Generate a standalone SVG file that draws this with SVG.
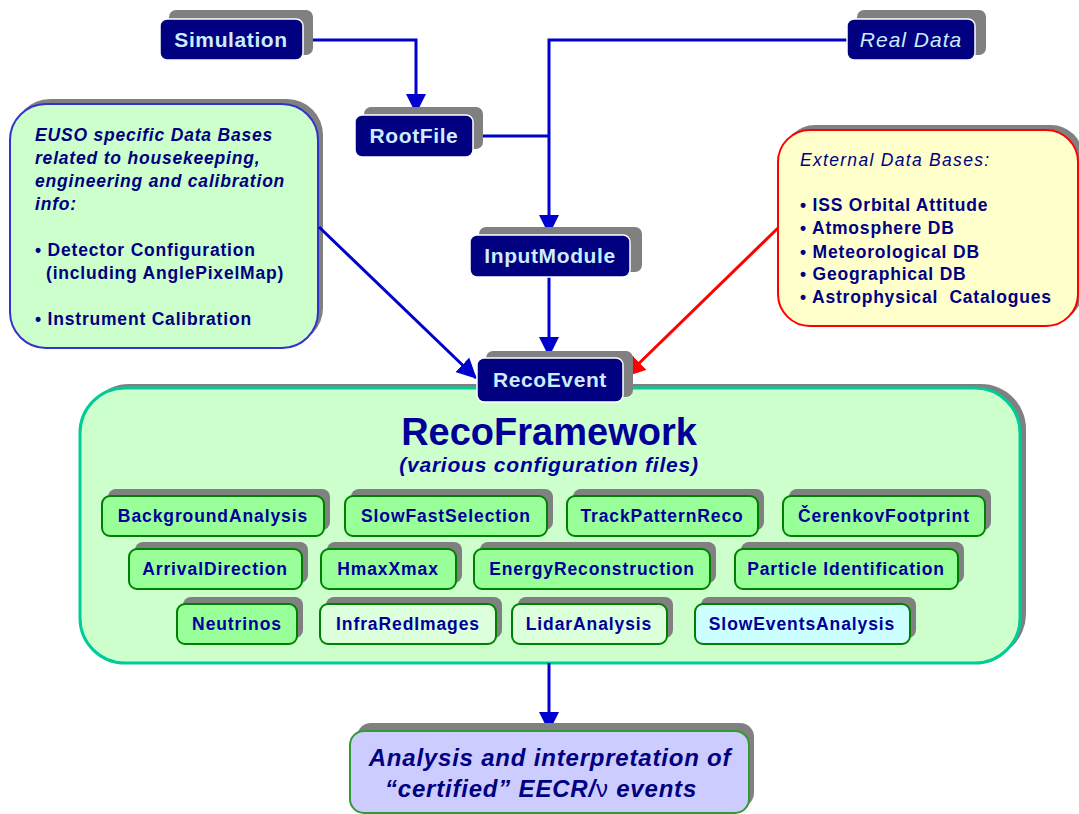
<svg xmlns="http://www.w3.org/2000/svg" width="1079" height="814" viewBox="0 0 1079 814">
<style>
.sh{fill:#808080}
.dark{fill:#000080;stroke:#ffffff;stroke-width:1.5}
.dt{font-family:"Liberation Sans",Arial,sans-serif;font-weight:bold;font-size:21px;letter-spacing:0.6px;fill:#ccecff;text-anchor:middle}
.sub{fill:#99ff99;stroke:#008000;stroke-width:2}
.st{font-family:"Liberation Sans",Arial,sans-serif;font-weight:bold;font-size:17.5px;letter-spacing:0.9px;fill:#000099;text-anchor:middle}
.bt{font-family:"Liberation Sans",Arial,sans-serif;font-weight:bold;font-size:17.5px;letter-spacing:0.8px;fill:#000080}
.conn{fill:none;stroke:#0000cc;stroke-width:3}
</style>
<defs>
<marker id="ab" markerUnits="userSpaceOnUse" markerWidth="20" markerHeight="20" viewBox="0 0 20 20" refX="19" refY="10" orient="auto"><path d="M0,0 L20,10 L0,20 z" fill="#0000cc"/></marker>
<marker id="ar" markerUnits="userSpaceOnUse" markerWidth="20" markerHeight="20" viewBox="0 0 20 20" refX="19" refY="10" orient="auto"><path d="M0,0 L20,10 L0,20 z" fill="#ff0000"/></marker>
</defs>
<rect width="1079" height="814" fill="#ffffff"/>

<g id="euso-db">
<rect class="sh" x="14" y="99" width="309" height="245" rx="36"/>
<rect x="10" y="104" width="308" height="244" rx="36" fill="#ccffcc" stroke="#3333cc" stroke-width="2"/>
<text class="bt" font-style="italic" x="35" y="141">EUSO specific Data Bases</text>
<text class="bt" font-style="italic" x="35" y="164">related to housekeeping,</text>
<text class="bt" font-style="italic" x="35" y="187">engineering and calibration</text>
<text class="bt" font-style="italic" x="35" y="210">info:</text>
<text class="bt" x="35" y="256">• Detector Configuration</text>
<text class="bt" x="46" y="279">(including AnglePixelMap)</text>
<text class="bt" x="35" y="325">• Instrument Calibration</text>
</g>

<g id="external-db">
<rect class="sh" x="783" y="125" width="300" height="197" rx="32"/>
<rect x="778" y="130" width="300" height="196" rx="32" fill="#ffffcc" stroke="#ff0000" stroke-width="2"/>
<text x="800" y="166" font-family="Liberation Sans,Arial,sans-serif" font-style="italic" font-size="17.5px" letter-spacing="1.3" fill="#000080">External Data Bases:</text>
<text class="bt" x="800" y="211">• ISS Orbital Attitude</text>
<text class="bt" x="800" y="234">• Atmosphere DB</text>
<text class="bt" x="800" y="258">• Meteorological DB</text>
<text class="bt" x="800" y="280">• Geographical DB</text>
<text class="bt" x="800" y="303" xml:space="preserve">• Astrophysical  Catalogues</text>
</g>

<g id="framework">
<rect class="sh" x="84" y="384" width="942" height="275" rx="45"/>
<rect x="80" y="388" width="940" height="275" rx="45" fill="#ccffcc" stroke="#00cc99" stroke-width="3"/>
<text x="549" y="445" font-family="Liberation Sans,Arial,sans-serif" font-weight="bold" font-size="38px" fill="#000099" text-anchor="middle">RecoFramework</text>
<text x="549" y="472" font-family="Liberation Sans,Arial,sans-serif" font-weight="bold" font-style="italic" font-size="21px" letter-spacing="0.8" fill="#000099" text-anchor="middle">(various configuration files)</text>
</g>

<g id="background-analysis"><rect class="sh" x="108" y="489" width="222" height="41" rx="8"/><rect class="sub" x="102" y="496" width="222" height="40" rx="8"/><text class="st" x="213" y="522">BackgroundAnalysis</text></g>
<g id="slow-fast-selection"><rect class="sh" x="351" y="489" width="202" height="41" rx="8"/><rect class="sub" x="345" y="496" width="202" height="40" rx="8"/><text class="st" x="446" y="522">SlowFastSelection</text></g>
<g id="track-pattern-reco"><rect class="sh" x="573" y="489" width="191" height="41" rx="8"/><rect class="sub" x="567" y="496" width="191" height="40" rx="8"/><text class="st" x="662" y="522">TrackPatternReco</text></g>
<g id="cerenkov-footprint"><rect class="sh" x="789" y="489" width="202" height="41" rx="8"/><rect class="sub" x="783" y="496" width="202" height="40" rx="8"/><text class="st" x="884" y="522">ČerenkovFootprint</text></g>

<g id="arrival-direction"><rect class="sh" x="135" y="542" width="173" height="41" rx="8"/><rect class="sub" x="129" y="549" width="173" height="40" rx="8"/><text class="st" x="215" y="575">ArrivalDirection</text></g>
<g id="hmax-xmax"><rect class="sh" x="327" y="542" width="135" height="41" rx="8"/><rect class="sub" x="321" y="549" width="135" height="40" rx="8"/><text class="st" x="388" y="575">HmaxXmax</text></g>
<g id="energy-reconstruction"><rect class="sh" x="480" y="542" width="236" height="41" rx="8"/><rect class="sub" x="474" y="549" width="236" height="40" rx="8"/><text class="st" x="592" y="575">EnergyReconstruction</text></g>
<g id="particle-identification"><rect class="sh" x="741" y="542" width="223" height="41" rx="8"/><rect class="sub" x="735" y="549" width="223" height="40" rx="8"/><text class="st" x="846" y="575">Particle Identification</text></g>

<g id="neutrinos"><rect class="sh" x="183" y="597" width="120" height="41" rx="8"/><rect class="sub" x="177" y="604" width="120" height="40" rx="8"/><text class="st" x="237" y="630">Neutrinos</text></g>
<g id="infrared-images"><rect class="sh" x="326" y="597" width="176" height="41" rx="8"/><rect class="sub" style="fill:#dcffdc" x="320" y="604" width="176" height="40" rx="8"/><text class="st" x="408" y="630">InfraRedImages</text></g>
<g id="lidar-analysis"><rect class="sh" x="518" y="597" width="155" height="41" rx="8"/><rect class="sub" style="fill:#dcffdc" x="512" y="604" width="155" height="40" rx="8"/><text class="st" x="589" y="630">LidarAnalysis</text></g>
<g id="slow-events-analysis"><rect class="sh" x="701" y="597" width="215" height="41" rx="8"/><rect class="sub" style="fill:#ccffff" x="695" y="604" width="215" height="40" rx="8"/><text class="st" x="802" y="630">SlowEventsAnalysis</text></g>

<g id="connectors">
<path class="conn" d="M303,40 H416 V113" marker-end="url(#ab)"/>
<path class="conn" d="M847,40 H549 V234" marker-end="url(#ab)"/>
<path class="conn" d="M473,136 H549"/>
<path class="conn" d="M549,277 V356" marker-end="url(#ab)"/>
<path class="conn" d="M319,227 L476,378" marker-end="url(#ab)"/>
<path d="M778,228 L626,376" fill="none" stroke="#ff0000" stroke-width="3" marker-end="url(#ar)"/>
<path class="conn" d="M549,663 V731" marker-end="url(#ab)"/>
</g>

<g id="simulation"><rect class="sh" x="169" y="10" width="144" height="45" rx="7"/><rect class="dark" x="160" y="19" width="143" height="41" rx="7"/><text class="dt" x="231" y="47">Simulation</text></g>
<g id="real-data"><rect class="sh" x="857" y="10" width="129" height="45" rx="7"/><rect class="dark" x="847" y="19" width="128" height="41" rx="7"/><text class="dt" x="911" y="47" style="font-weight:normal;font-style:italic;letter-spacing:1px">Real Data</text></g>
<g id="rootfile"><rect class="sh" x="364" y="107" width="119" height="42" rx="7"/><rect class="dark" x="355" y="115" width="118" height="42" rx="7"/><text class="dt" x="414" y="143">RootFile</text></g>
<g id="input-module"><rect class="sh" x="479" y="227" width="163" height="45" rx="7"/><rect class="dark" x="470" y="235" width="160" height="42" rx="7"/><text class="dt" x="550" y="263">InputModule</text></g>
<g id="reco-event"><rect class="sh" x="486" y="351" width="147" height="46" rx="7"/><rect class="dark" x="477" y="358" width="146" height="44" rx="7"/><text class="dt" x="550" y="387">RecoEvent</text></g>

<g id="analysis">
<rect class="sh" x="357" y="723" width="397" height="84" rx="14"/>
<rect x="350" y="731" width="399" height="82" rx="14" fill="#ccccff" stroke="#339933" stroke-width="2"/>
<text x="550" y="766" font-family="Liberation Sans,Arial,sans-serif" font-weight="bold" font-style="italic" font-size="24px" letter-spacing="0.8" fill="#000080" text-anchor="middle">Analysis and interpretation of</text>
<text x="541" y="797" font-family="Liberation Sans,Arial,sans-serif" font-weight="bold" font-style="italic" font-size="24px" letter-spacing="0.8" fill="#000080" text-anchor="middle">“certified” EECR/<tspan font-style="normal" font-weight="normal">ν</tspan> events</text>
</g>
</svg>
